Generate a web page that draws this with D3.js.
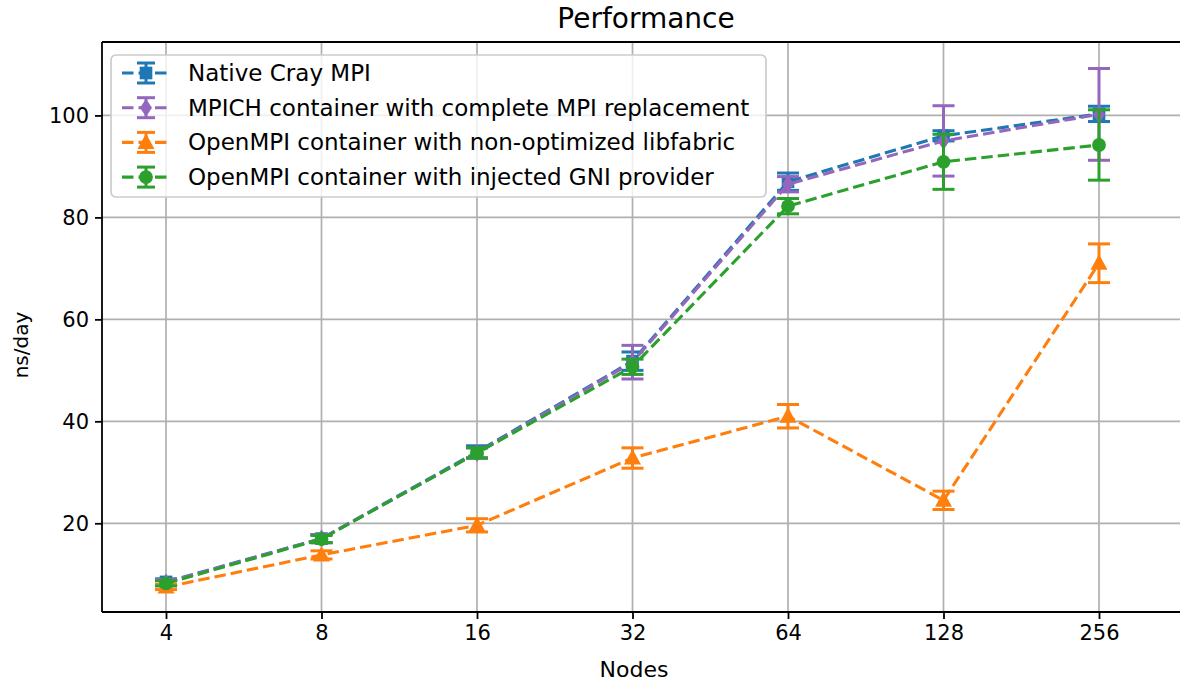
<!DOCTYPE html>
<html>
<head>
<meta charset="utf-8">
<script src="https://cdn.jsdelivr.net/npm/d3@7"></script>
<style>
  body { margin: 0; background: #fff; }
  svg text { font-family: "DejaVu Sans", sans-serif; fill: #000; }
</style>
</head>
<body>
<script>
// node counts on the log2 x axis
var nodes = [4, 8, 16, 32, 64, 128, 256];
var yTicks = [20, 40, 60, 80, 100];

var nativeCray = [8.5, 17.0, 34.0, 51.8, 87.0, 96.0, 100.3];
var nativeCrayErr = [0.6, 0.8, 1.2, 1.8, 1.7, 1.0, 1.5];
var mpich = [8.4, 17.0, 33.8, 51.6, 86.5, 95.0, 100.2];
var mpichErr = [0.6, 0.8, 1.0, 3.3, 1.5, 6.9, 9.0];
var openmpiNonOpt = [7.5, 13.8, 19.6, 32.8, 41.0, 24.5, 71.0];
var openmpiNonOptErr = [0.5, 0.8, 1.3, 2.0, 2.3, 1.8, 3.8];
var openmpiGni = [8.2, 16.9, 33.8, 50.7, 82.2, 90.9, 94.2];
var openmpiGniErr = [0.5, 0.7, 1.0, 1.5, 1.5, 5.4, 6.9];

var seriesNames = ["Native Cray MPI", "MPICH container with complete MPI replacement",
  "OpenMPI container with non-optimized libfabric", "OpenMPI container with injected GNI provider"];

var series = [
  {name: seriesNames[0], vals: nativeCray, err: nativeCrayErr, color: "#1f77b4", marker: "square"},
  {name: seriesNames[1], vals: mpich, err: mpichErr, color: "#9467bd", marker: "diamond"},
  {name: seriesNames[2], vals: openmpiNonOpt, err: openmpiNonOptErr, color: "#ff7f0e", marker: "triangle"},
  {name: seriesNames[3], vals: openmpiGni, err: openmpiGniErr, color: "#2ca02c", marker: "circle"}
];

var width = 1180, height = 685;
var pLeft = 102, pTop = 42, pBottom = 612, pRight = 1200;

var svg = d3.select("body").append("svg")
  .attr("width", width)
  .attr("height", height);

var x = d3.scaleLog().base(2).domain([4, 256]).range([166, 1099]);
var y = d3.scaleLinear().domain([2.6, 114.4]).range([pBottom, pTop]);

svg.append("defs").append("clipPath").attr("id", "plotclip")
  .append("rect").attr("x", pLeft).attr("y", pTop).attr("width", pRight - pLeft).attr("height", pBottom - pTop);

// grid
var grid = svg.append("g");
grid.selectAll("line.gx").data(nodes).enter().append("line")
  .attr("x1", function (d) { return x(d); })
  .attr("x2", function (d) { return x(d); })
  .attr("y1", pTop).attr("y2", pBottom)
  .attr("stroke", "#b0b0b0").attr("stroke-width", 1.7);
grid.selectAll("line.gy").data(yTicks).enter().append("line")
  .attr("x1", pLeft).attr("x2", pRight)
  .attr("y1", function (d) { return y(d); })
  .attr("y2", function (d) { return y(d); })
  .attr("stroke", "#b0b0b0").attr("stroke-width", 1.7);

function markerPath(type) {
  if (type == "square") return d3.symbol().type(d3.symbolSquare).size(160)();
  if (type == "circle") return d3.symbol().type(d3.symbolCircle).size(150)();
  if (type == "triangle") return "M0,-9L8.5,6.5L-8.5,6.5Z";
  return "M0,-9L6,0L0,9L-6,0Z";
}

var plot = svg.append("g").attr("clip-path", "url(#plotclip)");

series.forEach(function (s) {
  var g = plot.append("g");
  var line = d3.line()
    .x(function (d, i) { return x(nodes[i]); })
    .y(function (d) { return y(d); });
  g.append("path")
    .attr("d", line(s.vals))
    .attr("fill", "none")
    .attr("stroke", s.color)
    .attr("stroke-width", 3.1)
    .attr("stroke-dasharray", "11.5,5");

  g.selectAll("path.m").data(s.vals).enter().append("path")
    .attr("d", markerPath(s.marker))
    .attr("transform", function (d, i) { return "translate(" + x(nodes[i]) + "," + y(d) + ")"; })
    .attr("fill", s.color);

  var bars = g.selectAll("g.eb").data(s.vals).enter().append("g");
  bars.append("line")
    .attr("x1", function (d, i) { return x(nodes[i]); })
    .attr("x2", function (d, i) { return x(nodes[i]); })
    .attr("y1", function (d, i) { return y(d - s.err[i]); })
    .attr("y2", function (d, i) { return y(d + s.err[i]); })
    .attr("stroke", s.color).attr("stroke-width", 3);
  [-1, 1].forEach(function (sign) {
    bars.append("line")
      .attr("x1", function (d, i) { return x(nodes[i]) - 11; })
      .attr("x2", function (d, i) { return x(nodes[i]) + 11; })
      .attr("y1", function (d, i) { return y(d + sign * s.err[i]); })
      .attr("y2", function (d, i) { return y(d + sign * s.err[i]); })
      .attr("stroke", s.color).attr("stroke-width", 3);
  });
});

// spines
svg.append("line").attr("x1", pLeft).attr("x2", pLeft).attr("y1", pTop).attr("y2", pBottom)
  .attr("stroke", "#000").attr("stroke-width", 1.8);
svg.append("line").attr("x1", pLeft).attr("x2", pRight).attr("y1", pBottom).attr("y2", pBottom)
  .attr("stroke", "#000").attr("stroke-width", 1.8);
svg.append("line").attr("x1", pLeft).attr("x2", pRight).attr("y1", pTop).attr("y2", pTop)
  .attr("stroke", "#000").attr("stroke-width", 1.8);

// axes
var xAxis = d3.axisBottom(x).tickValues(nodes).tickFormat(d3.format("d")).tickSize(7).tickPadding(6);
var gx = svg.append("g").attr("transform", "translate(0," + pBottom + ")").call(xAxis);
gx.select(".domain").remove();
gx.selectAll(".tick line").attr("stroke", "#000").attr("stroke-width", 1.8);
gx.selectAll(".tick text").attr("font-size", 21).attr("font-family", "DejaVu Sans");

var yAxis = d3.axisLeft(y).tickValues(yTicks).tickSize(7).tickPadding(6);
var gy = svg.append("g").attr("transform", "translate(" + pLeft + ",0)").call(yAxis);
gy.select(".domain").remove();
gy.selectAll(".tick line").attr("stroke", "#000").attr("stroke-width", 1.8);
gy.selectAll(".tick text").attr("font-size", 21).attr("font-family", "DejaVu Sans");

svg.append("text").attr("x", 646).attr("y", 28).attr("text-anchor", "middle")
  .attr("font-size", 28).text("Performance");
svg.append("text").attr("x", 634).attr("y", 677).attr("text-anchor", "middle")
  .attr("font-size", 22).text("Nodes");
svg.append("text").attr("transform", "translate(28,345) rotate(-90)").attr("text-anchor", "middle")
  .attr("font-size", 20).text("ns/day");

// legend
var legend = svg.append("g");
legend.append("rect")
  .attr("x", 111).attr("y", 55).attr("width", 655).attr("height", 142).attr("rx", 5)
  .attr("fill", "#fff").attr("fill-opacity", 0.8)
  .attr("stroke", "#cccccc").attr("stroke-width", 1.7);

var rows = legend.selectAll("g.row").data(series).enter().append("g")
  .attr("transform", function (d, i) { return "translate(0," + (73 + i * 34.7) + ")"; });
rows.append("line")
  .attr("x1", 122).attr("x2", 170).attr("y1", 0).attr("y2", 0)
  .attr("stroke", function (d) { return d.color; })
  .attr("stroke-width", 3.1).attr("stroke-dasharray", "11.5,5");
rows.append("path")
  .attr("d", function (d) { return markerPath(d.marker); })
  .attr("transform", "translate(146,0)")
  .attr("fill", function (d) { return d.color; });
rows.append("line")
  .attr("x1", 146).attr("x2", 146).attr("y1", -10).attr("y2", 10)
  .attr("stroke", function (d) { return d.color; }).attr("stroke-width", 3);
[-10, 10].forEach(function (cy) {
  rows.append("line")
    .attr("x1", 137).attr("x2", 155).attr("y1", cy).attr("y2", cy)
    .attr("stroke", function (d) { return d.color; }).attr("stroke-width", 3);
});
rows.append("text")
  .attr("x", 188).attr("y", 8)
  .attr("font-size", 23)
  .text(function (d) { return d.name; });
</script>
</body>
</html>
